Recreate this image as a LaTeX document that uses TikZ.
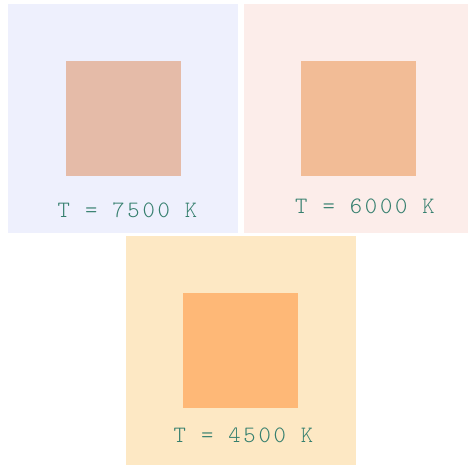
\documentclass[tikz,border=0pt]{standalone}
\usepackage{fontspec}
\newfontfamily\labfont[LetterSpace=11.5]{Latin Modern Mono Light}
\definecolor{bgblue}{HTML}{EEF0FD}
\definecolor{bgrose}{HTML}{FCEDEA}
\definecolor{bgsand}{HTML}{FDE8C4}
\definecolor{sqhot}{HTML}{E5BBA8}
\definecolor{sqmid}{HTML}{F2BC96}
\definecolor{sqcool}{HTML}{FEB877}
\definecolor{labtext}{HTML}{357F6E}
\tikzset{
  panel/.style={rectangle, inner sep=0pt, minimum width=230pt, minimum height=229pt},
  starsq/.style={rectangle, inner sep=0pt, minimum size=115pt},
  templabel/.style={anchor=base west, inner sep=0pt, text=labtext, font=\labfont\fontsize{23.5}{23.5}\selectfont}
}
\begin{document}
\begin{tikzpicture}[x=1pt, y=-1pt]
	\useasboundingbox (0,0) rectangle (468,465);
	\clip (0,0) rectangle (468,465);
	% panels
	\node[panel, fill=bgblue] (pA) at (123,118.5) {};
	\node[panel, fill=bgrose] (pB) at (359,118.5) {};
	\node[panel, fill=bgsand] (pC) at (241,350.5) {};
	% coloured squares
	\node[starsq, fill=sqhot] (sA) at (123,118.5) {};
	\node[starsq, fill=sqmid] (sB) at (358.8,118.5) {};
	\node[starsq, fill=sqcool] (sC) at (240.8,350.8) {};
	% labels
	\node[templabel] (tA) at (57.5,217) {T = 7500 K};
	\node[templabel] (tB) at (295,213.3) {T = 6000 K};
	\node[templabel] (tC) at (173.5,442) {T = 4500 K};
\end{tikzpicture}
\end{document}
